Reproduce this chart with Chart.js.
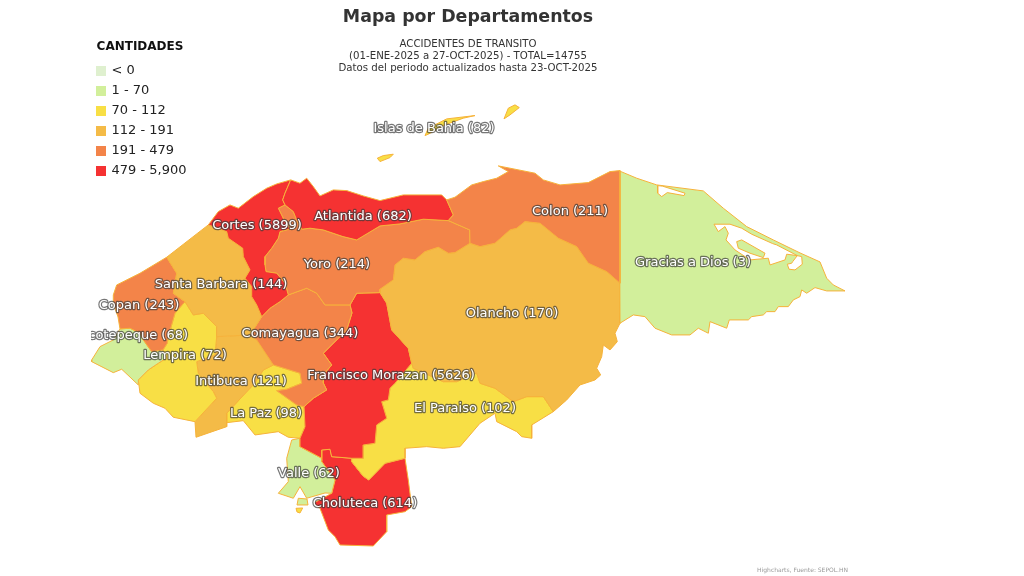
<!DOCTYPE html>
<html>
<head>
<meta charset="utf-8">
<style>html,body{margin:0;padding:0;background:#fff}canvas{display:block}</style>
<script src="https://cdn.jsdelivr.net/npm/chart.js@4"></script>
</head>
<body>
<canvas id="c" width="1024" height="576"></canvas>
<script>
// Table values
const departments = ["Islas de Bahia","Colon","Gracias a Dios","Atlantida","Cortes","Yoro","Santa Barbara","Copan","Ocotepeque","Olancho","Comayagua","Lempira","Francisco Morazan","Intibuca","El Paraiso","La Paz","Valle","Choluteca"];
const counts = [82,211,3,682,5899,214,144,243,68,170,344,72,5626,121,102,98,62,614];
const labelX = [434,570,693,363,257,337,221,139,133,512,300,185,391,241,465,266,309,365];
const labelY = [128,211,262,216,225,264,284,305,335,313,333,355,375,381,408,413,473,503];

// Colour classes
const classLabels = ["< 0","1 - 70","70 - 112","112 - 191","191 - 479","479 - 5,900"];
const classUpper = [0,70,112,191,479,5900];
const classColors = ["#dff0cf","#d2ef9b","#f8df45","#f4bb47","#f38449","#f53232"];

// Map geometry, in map units of the x and y scales
const islasRoatan = [[425,135.7],[428.3,128.3],[446.7,119],[475,115.7],[463.3,118.3],[445,125],[428.3,134.3]];
const islasGuanaja = [[504,119],[508.3,108.3],[515,105],[519.3,107.7],[510,115]];
const islasUtila = [[377.3,158.3],[383.3,155.7],[393.3,154.3],[390,157.7],[380,161.7]];
const colon = [[446.7,200],[455,197.3],[471.7,185],[483.3,181.7],[496.7,178.3],[508.3,171.7],[498.3,166],[510,168.3],[535,173.3],[543.3,180],[560,185],[588.3,182.7],[610,171.7],[620,170.7],[620,283.3],[606.7,271.7],[588.3,263.3],[576.7,246.7],[558.3,238.3],[540,223.3],[525,221.7],[516.7,228.3],[510,230],[495,243.3],[480,246.7],[470,243.3],[469.7,230],[448.3,220.7],[453.3,215]];
const graciasMain = [[619.3,171],[636.7,178.3],[656.7,185],[703.3,191],[723.3,208.3],[746.7,226.7],[773.3,240],[800,253],[820,262],[826.7,278.3],[833.3,285],[845,291],[826.7,291],[815,287.7],[806.7,293.3],[801.7,290],[800,296.7],[793.3,300],[788.3,306.7],[778.3,306.7],[775,311.7],[766.7,311.7],[763.3,315],[751.7,316.7],[748.3,320],[729.3,320],[726.7,328.3],[710,321.7],[708.3,333.3],[698.3,328.3],[690,335],[671.7,335],[655,328.3],[645,316.7],[633.3,315],[620,323.3]];
const atlantida = [[290.7,180],[300,183.3],[306.7,178.3],[313.3,186.7],[320,196],[333.3,190],[346.7,190.7],[363.3,196],[380,200.7],[403.3,195],[441.7,195],[446.7,200],[453.3,215],[448.3,220.7],[423.3,219.3],[400,224],[380,226],[356.7,240],[343,236.7],[323.3,230],[310,228.3],[301.7,229.3],[296.7,220],[293.3,211.7],[285,205],[282.7,200],[285,193.3]];
const cortes = [[208.3,225],[218.3,211.7],[230,205],[238.3,208.3],[253.3,196.7],[266.7,188.3],[276.7,184],[290.7,180],[285,193.3],[282.7,200],[285,205],[278.3,208.3],[284,220],[290,229],[280,231.7],[278.3,238.3],[271.7,248.3],[265,256.7],[265,265],[266,271.7],[276.7,273.3],[285,283.3],[288.3,295],[280,301.7],[270,308.3],[261.7,316.7],[256.7,305],[251.7,296.7],[251.7,286.7],[245,278.3],[250,270],[243.3,256.7],[242.7,248.3],[228.3,238.3],[226.7,231.7]];
const yoro = [[278.3,208.3],[285,205],[293.3,211.7],[296.7,220],[301.7,229.3],[310,228.3],[323.3,230],[343,236.7],[356.7,240],[380,226],[400,224],[423.3,219.3],[448.3,220.7],[469.7,230],[470,243.3],[455,252.7],[448.3,253.3],[438.3,247.3],[425,251.7],[415,260],[403.3,258.3],[395,265],[393.3,280],[380,289.3],[380,292.7],[356.7,293.3],[350,305],[325,305],[316.7,293.3],[306.7,288.3],[288.3,295],[285,283.3],[276.7,273.3],[266,271.7],[265,265],[265,256.7],[271.7,248.3],[278.3,238.3],[280,231.7],[290,229],[284,220]];
const santaBarbara = [[208.3,225],[226.7,231.7],[228.3,238.3],[242.7,248.3],[243.3,256.7],[250,270],[245,278.3],[251.7,286.7],[251.7,296.7],[256.7,305],[261.7,316.7],[250,335],[216.7,336.7],[216.7,326.7],[203.3,313.3],[193.3,315],[185,301.7],[173.3,293.3],[176.7,273.3],[166.7,257.3]];
const copan = [[166.7,257.3],[176.7,273.3],[173.3,293.3],[185,301.7],[175,313.3],[168.3,336.7],[167.3,343.3],[163,350],[151.7,351.7],[143.3,340],[140,333.3],[130,328.3],[120,329],[118,317],[113,303],[113.3,295],[116.7,285],[140,273.3]];
const ocotepeque = [[91.7,361.7],[113.3,372.7],[121.7,369.3],[138.3,385],[138.3,380],[148.3,370],[158.3,363.3],[166.7,358],[163,350],[151.7,351.7],[143.3,340],[140,333.3],[130,328.3],[120,329],[113.3,340],[100,346.7],[91.7,360]];
const olancho = [[470,243.3],[480,246.7],[495,243.3],[510,230],[516.7,228.3],[525,221.7],[540,223.3],[558.3,238.3],[576.7,246.7],[588.3,263.3],[606.7,271.7],[620,283.3],[620,323.3],[615,333.3],[617.3,341.7],[610,350],[603.3,345],[601.7,356.7],[596.7,368.3],[600.7,375],[595,380],[580,385],[566.7,400],[553.3,411.7],[543.3,396.7],[526.7,396.7],[513.3,401.7],[495,388.3],[480,383.3],[476.7,373],[456.7,381.7],[443.3,381.7],[413.3,368.3],[411.7,363.3],[408.3,348.3],[391.7,330],[386.7,303.3],[380,292.7],[380,289.3],[393.3,280],[395,265],[403.3,258.3],[415,260],[425,251.7],[438.3,247.3],[448.3,253.3],[455,252.7]];
const comayagua = [[261.7,316.7],[270,308.3],[280,301.7],[288.3,295],[306.7,288.3],[316.7,293.3],[325,305],[350,305],[352,313],[346.7,330],[323.3,353.3],[331.7,365],[323.3,375],[323.3,383],[326.7,390],[313.3,398.3],[304,406.7],[296.7,405],[276.7,390.7],[286.7,389.3],[301.7,383.3],[300,373.3],[273.3,365],[256.7,340],[250,335]];
const lempira = [[185,301.7],[193.3,315],[203.3,313.3],[216.7,326.7],[216.7,336.7],[215,355],[196.7,361.7],[198.3,373.3],[213.3,391.7],[216.7,398.3],[195,421.7],[173.3,417.3],[165,408.3],[153.3,403.3],[140,393.3],[138.3,380],[148.3,370],[158.3,363.3],[166.7,358],[163,350],[167.3,343.3],[168.3,336.7],[175,313.3]];
const franciscoMorazan = [[356.7,293.3],[380,292.7],[386.7,303.3],[391.7,330],[408.3,348.3],[411.7,363.3],[395,383.3],[390,388.3],[388.3,400],[381.7,401.7],[386.7,418.3],[376.7,425],[375,443.3],[363.3,445],[363.3,458.3],[351.7,458.3],[331.7,456.7],[330,449.3],[321.7,450],[321.7,458.3],[300,446.7],[300,438.3],[305,426.7],[304,406.7],[313.3,398.3],[326.7,390],[323.3,383],[323.3,375],[331.7,365],[323.3,353.3],[346.7,330],[352,313],[350,305]];
const intibuca = [[216.7,336.7],[250,335],[256.7,340],[273.3,365],[263.3,370],[255,383],[250,388.3],[226.7,413.3],[226.7,426.7],[196,437.3],[195,421.7],[216.7,398.3],[213.3,391.7],[198.3,373.3],[196.7,361.7],[215,355]];
const elParaiso = [[411.7,363.3],[413.3,368.3],[443.3,381.7],[456.7,381.7],[476.7,373],[480,383.3],[495,388.3],[513.3,401.7],[526.7,396.7],[543.3,396.7],[553.3,411.7],[531.7,425],[531.7,438.3],[521.7,436.7],[516.7,431.7],[496.7,421.7],[495,413.3],[480,423.3],[460,446.7],[443.3,448.3],[426.7,446.7],[405,448.3],[405,458.3],[385,463.3],[368.7,480],[363,476],[351.7,461.7],[351.7,458.3],[363.3,458.3],[363.3,445],[375,443.3],[376.7,425],[386.7,418.3],[381.7,401.7],[388.3,400],[390,388.3],[395,383.3]];
const laPaz = [[263.3,370],[273.3,365],[300,373.3],[301.7,383.3],[286.7,389.3],[276.7,390.7],[296.7,405],[304,406.7],[305,426.7],[300,438.3],[288.3,437.3],[278.3,431.7],[255,435],[243.3,420.7],[226.7,422.7],[226.7,413.3],[250,388.3],[255,383]];
const valleMain = [[291.7,440],[300,438.3],[300,446.7],[321.7,458.3],[321.7,461.7],[335,480],[331.7,493.3],[325,493],[306.7,498.3],[300,486.7],[293.3,498.3],[278.3,493.3],[288.3,481.7],[286.7,458.3]];
const valleIsland = [[298.3,498.3],[307,499],[308,505],[297,505]];
const choluteca = [[321.7,450],[330,449.3],[331.7,456.7],[351.7,458.3],[351.7,461.7],[363,476],[368.7,480],[385,463.3],[405,458.3],[408.3,480],[411.7,506.7],[405,511.7],[386.7,515],[386.7,531.7],[373.3,546],[340,545],[335,536.7],[328.3,530],[320,508.3],[313.3,503.3],[331.7,493.3],[335,480],[321.7,461.7]];

// Water and small features drawn over the land
const lagoonSmall = [[657.7,185.7],[657.7,193.3],[661.7,196.7],[667.3,192.7],[684,195.7],[685,193.3],[662.7,186.3]];
const lagoonCaratasca = [[714,224.3],[718.3,231.7],[725,226.7],[728.3,233.3],[726,240],[735,250],[750,260],[768.3,258.3],[770,265],[785,260],[786.7,254.3],[797.3,255.7],[776.7,245],[772.7,243.7],[751.7,234.3],[741.7,228.3],[730,224.3]];
const lagoonPond = [[792.7,261.7],[797.3,255.7],[801.7,256.7],[802.3,264.3],[795,270],[789,269.3],[787.3,264.3],[791.7,263.3]];
const lagoonIsland = [[736.7,241.7],[741.7,240],[765,253.3],[763.3,257.7],[750,253.3],[738.3,248.3]];
const islet = [[296,508.3],[302.7,508],[300,513],[297,512]];

const shapes = {
  "Islas de Bahia":[islasRoatan,islasGuanaja,islasUtila],"Colon":[colon],"Gracias a Dios":[graciasMain],
  "Atlantida":[atlantida],"Cortes":[cortes],"Yoro":[yoro],"Santa Barbara":[santaBarbara],"Copan":[copan],
  "Ocotepeque":[ocotepeque],"Olancho":[olancho],"Comayagua":[comayagua],"Lempira":[lempira],
  "Francisco Morazan":[franciscoMorazan],"Intibuca":[intibuca],"El Paraiso":[elParaiso],"La Paz":[laPaz],
  "Valle":[valleMain,valleIsland],"Choluteca":[choluteca]
};

const BORDER = "#f6b23a";
const colourFor = v => classColors[classUpper.findIndex(u => v <= u)];
const toPoints = rings => {
  const out = [];
  rings.forEach(r => {
    r.forEach(p => out.push({x:p[0],y:p[1]}));
    out.push({x:r[0][0],y:r[0][1]});
    out.push({x:null,y:null});
  });
  return out;
};
const area = (label, rings, colour) => ({
  label, data: toPoints(rings), showLine:true, fill:"shape", backgroundColor:colour,
  borderColor:BORDER, borderWidth:1, borderJoinStyle:"round", pointRadius:0, tension:0, spanGaps:false
});

// Chart.js paints the first dataset last, so overlays come first
const datasets = [
  area("Isla", [lagoonIsland], colourFor(3)),
  area("Laguna", [lagoonSmall,lagoonCaratasca,lagoonPond], "#ffffff"),
  area("Islote", [islet], classColors[2]),
  ...departments.map((d,i) => area(d, shapes[d], colourFor(counts[i])))
];

const placeLegend = {
  id:"placeLegend",
  afterLayout(chart){ chart.legend.left = 90; chart.legend.top = 41; chart.legend.width = 100; }
};
const mapLabels = {
  id:"mapLabels",
  afterDatasetsDraw(chart){
    const {ctx, scales:{x,y}} = chart;
    ctx.save();
    ctx.font = "13px 'DejaVu Sans'";
    ctx.textAlign = "center"; ctx.textBaseline = "middle"; ctx.lineJoin = "round";
    departments.forEach((d,i) => {
      ctx.save();
      ctx.beginPath(); ctx.rect(91,0,933,576); ctx.clip();
      const t = d + " (" + counts[i] + ")";
      const px = x.getPixelForValue(labelX[i]), py = y.getPixelForValue(labelY[i]) + 0.5;
      ctx.strokeStyle = "rgba(60,60,60,0.7)"; ctx.lineWidth = 2.4;
      ctx.strokeText(t,px,py);
      ctx.fillStyle = "#ffffff"; ctx.fillText(t,px,py);
      ctx.restore();
    });
    ctx.font = "6px 'DejaVu Sans'"; ctx.fillStyle = "#999999"; ctx.textAlign = "right";
    ctx.fillText("Highcharts, Fuente: SEPOL.HN", 848, 570);
    ctx.restore();
  }
};

new Chart(document.getElementById("c"), {
  type:"scatter",
  data:{datasets},
  plugins:[placeLegend,mapLabels],
  options:{
    responsive:false, animation:false, devicePixelRatio:1,
    layout:{padding:{left:0,top:0,bottom:0,right:88}},
    scales:{
      x:{type:"linear",display:false,min:0,max:936},
      y:{type:"linear",display:false,min:74,max:576,reverse:true}
    },
    plugins:{
      tooltip:{enabled:false},
      title:{display:true,text:"Mapa por Departamentos",color:"#333333",
        font:{family:"'DejaVu Sans'",size:17.4,weight:"bold",lineHeight:1.2},padding:{top:7,bottom:5}},
      subtitle:{display:true,
        text:["ACCIDENTES DE TRANSITO","(01-ENE-2025 a 27-OCT-2025) - TOTAL=14755","Datos del periodo actualizados hasta 23-OCT-2025"],
        color:"#333333",font:{family:"'DejaVu Sans'",size:10.2,lineHeight:1.176},padding:{top:5,bottom:0}},
      legend:{display:true,position:"chartArea",align:"start",onClick:null,
        title:{display:true,text:"CANTIDADES",position:"center",color:"#111111",
          font:{family:"'DejaVu Sans'",size:12,weight:"bold"},padding:{top:0,bottom:2}},
        labels:{boxWidth:8,boxHeight:8,padding:7,color:"#222222",
          font:{family:"'DejaVu Sans'",size:13},
          generateLabels:() => classLabels.map((t,i) => ({text:t,fillStyle:classColors[i],strokeStyle:classColors[i],lineWidth:2,hidden:false,fontColor:"#222222"}))
        }
      }
    }
  }
});
</script>
</body>
</html>
